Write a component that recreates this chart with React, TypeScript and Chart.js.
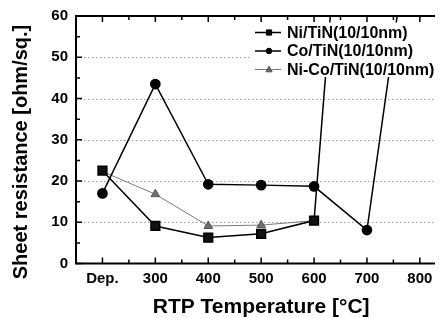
import React, { useEffect, useRef } from "react";
import { Chart, registerables } from "chart.js";

Chart.register(...registerables);

// ---- data ----
const tempPositions = [200, 300, 400, 500, 600, 700, 800];
const tempLabels = ["Dep.", "300", "400", "500", "600", "700", "800"];
const xMinorTicks = [250, 350, 450, 550, 650, 750];
const yTicks = [0, 10, 20, 30, 40, 50, 60];
const yMinorTicks = [5, 15, 25, 35, 45, 55];
const yGridValues = [10, 20, 30, 40, 50];

const niTiN: (number | null)[] = [22.5, 9.1, 6.3, 7.2, 10.4, 172, null];
const coTiN: (number | null)[] = [17.0, 43.5, 19.2, 19.0, 18.7, 8.1, 99];
const niCoTiN: (number | null)[] = [22.3, 16.8, 9.1, 9.3, 10.4, null, null];

const seriesNames = ["Ni/TiN(10/10nm)", "Co/TiN(10/10nm)", "Ni-Co/TiN(10/10nm)"];

const FONT = "'Liberation Sans', Arial, Helvetica, sans-serif";

function toPoints(arr: (number | null)[]) {
  const out: { x: number; y: number }[] = [];
  arr.forEach((v, i) => {
    if (v !== null) out.push({ x: tempPositions[i], y: v });
  });
  return out;
}

function drawMarker(ctx: CanvasRenderingContext2D, style: string, x: number, y: number, r: number, fill: string, stroke: string) {
  ctx.save();
  ctx.fillStyle = fill;
  ctx.strokeStyle = stroke;
  ctx.lineWidth = 1;
  ctx.beginPath();
  if (style === "rect") {
    ctx.rect(x - r, y - r, 2 * r, 2 * r);
  } else if (style === "circle") {
    ctx.arc(x, y, r, 0, Math.PI * 2);
  } else {
    ctx.moveTo(x, y - r);
    ctx.lineTo(x + r * 0.95, y + r * 0.7);
    ctx.lineTo(x - r * 0.95, y + r * 0.7);
    ctx.closePath();
  }
  ctx.fill();
  ctx.stroke();
  ctx.restore();
}

const framePlugin = {
  id: "framePlugin",
  beforeDatasetsDraw(chart: any) {
    const { ctx, chartArea } = chart;
    const y = chart.scales.y;
    ctx.save();
    ctx.strokeStyle = "#9a9a9a";
    ctx.lineWidth = 1;
    ctx.setLineDash([1.5, 2.5]);
    yGridValues.forEach((v) => {
      const py = Math.round(y.getPixelForValue(v)) + 0.5;
      ctx.beginPath();
      ctx.moveTo(chartArea.left, py);
      ctx.lineTo(chartArea.right, py);
      ctx.stroke();
    });
    ctx.restore();
  },
  afterDatasetsDraw(chart: any) {
    const { ctx, chartArea } = chart;
    const { left, right, top, bottom } = chartArea;
    const xs = chart.scales.x;
    const ys = chart.scales.y;
    ctx.save();
    // ticks
    ctx.strokeStyle = "#000";
    ctx.lineWidth = 1.5;
    const major = 6;
    const minor = 4;
    const vt = (v: number, len: number) => {
      const px = xs.getPixelForValue(v);
      ctx.beginPath();
      ctx.moveTo(px, bottom);
      ctx.lineTo(px, bottom - len);
      ctx.moveTo(px, top);
      ctx.lineTo(px, top + len);
      ctx.stroke();
    };
    tempPositions.forEach((v) => vt(v, major));
    xMinorTicks.forEach((v) => vt(v, minor));
    const ht = (v: number, len: number, rlen: number) => {
      const py = ys.getPixelForValue(v);
      ctx.beginPath();
      ctx.moveTo(left, py);
      ctx.lineTo(left + len, py);
      ctx.moveTo(right, py);
      ctx.lineTo(right - rlen, py);
      ctx.stroke();
    };
    yTicks.forEach((v) => ht(v, major, 8));
    yMinorTicks.forEach((v) => ht(v, minor, 4));

    // legend box
    ctx.fillStyle = "#fff";
    ctx.fillRect(242, 14.5, 187, 54.5);
    const rows = [24.5, 43, 61.5];
    const ds = chart.data.datasets;
    rows.forEach((ry, i) => {
      const d = ds[i];
      ctx.strokeStyle = d.borderColor;
      ctx.lineWidth = i === 2 ? 1 : 1.5;
      ctx.beginPath();
      ctx.moveTo(247, ry);
      ctx.lineTo(273, ry);
      ctx.stroke();
      const style = i === 0 ? "rect" : i === 1 ? "circle" : "triangle";
      const r = i === 0 ? 2.6 : i === 1 ? 2.8 : 3.3;
      drawMarker(ctx, style, 261, ry, r, d.backgroundColor, d.pointBorderColor || d.borderColor);
      ctx.fillStyle = "#000";
      ctx.font = `bold 16px ${FONT}`;
      ctx.textAlign = "left";
      ctx.textBaseline = "middle";
      ctx.fillText(seriesNames[i], 279, ry + 1);
    });

    // frame
    ctx.strokeStyle = "#000";
    ctx.lineWidth = 2;
    ctx.beginPath();
    ctx.moveTo(left, top);
    ctx.lineTo(left, bottom);
    ctx.moveTo(left - 1, bottom);
    ctx.lineTo(right + 1, bottom);
    ctx.moveTo(left - 1, top);
    ctx.lineTo(right + 1, top);
    ctx.moveTo(right, top);
    ctx.lineTo(right, bottom);
    ctx.stroke();

    // axis titles
    ctx.fillStyle = "#000";
    ctx.font = `bold 21px ${FONT}`;
    ctx.textAlign = "center";
    ctx.textBaseline = "alphabetic";
    ctx.fillText("RTP Temperature [\u00B0C]", (left + right) / 2, 305);
    ctx.save();
    ctx.translate(19, 144);
    ctx.rotate(-Math.PI / 2);
    ctx.font = `bold 20px ${FONT}`;
    ctx.fillText("Sheet resistance [ohm/sq.]", 0, 0);
    ctx.restore();
    ctx.restore();
  },
};

export default function App() {
  const canvasRef = useRef<HTMLCanvasElement | null>(null);
  useEffect(() => {
    if (!canvasRef.current) return;
    const chart = new Chart(canvasRef.current, {
      type: "line",
      data: {
        datasets: [
          {
            label: seriesNames[0],
            data: toPoints(niTiN),
            borderColor: "#000",
            backgroundColor: "#000",
            borderWidth: 1.5,
            pointStyle: "rect",
            pointRadius: 6.2,
            pointBorderColor: "#000",
            pointBackgroundColor: "#111",
            tension: 0,
          },
          {
            label: seriesNames[1],
            data: toPoints(coTiN),
            borderColor: "#000",
            backgroundColor: "#000",
            borderWidth: 1.5,
            pointStyle: "circle",
            pointRadius: 4.6,
            pointBorderColor: "#000",
            pointBackgroundColor: "#000",
            tension: 0,
          },
          {
            label: seriesNames[2],
            data: toPoints(niCoTiN),
            borderColor: "#7a7a7a",
            backgroundColor: "#6a6a6a",
            borderWidth: 1,
            pointStyle: "triangle",
            pointRadius: 5,
            pointBorderColor: "#555",
            pointBackgroundColor: "#6e6e6e",
            tension: 0,
          },
        ],
      },
      options: {
        responsive: false,
        animation: false,
        devicePixelRatio: 1,
        layout: { padding: { left: 0, top: 8, right: 1, bottom: 0 } },
        plugins: { legend: { display: false }, tooltip: { enabled: false } },
        scales: {
          x: {
            type: "linear",
            min: 150,
            max: 850,
            afterBuildTicks: (scale: any) => {
              scale.ticks = tempPositions.map((v) => ({ value: v }));
            },
            afterFit: (scale: any) => {
              scale.height = 54.5;
              scale.paddingLeft = 0;
              scale.paddingRight = 0;
            },
            ticks: {
              autoSkip: false,
              maxRotation: 0,
              padding: 6,
              color: "#000",
              font: { family: FONT, size: 15, weight: "bold" },
              callback: (v: any) => {
                const i = tempPositions.indexOf(Number(v));
                return i >= 0 ? tempLabels[i] : "";
              },
            },
            grid: { display: false, drawTicks: false },
            border: { display: false },
          },
          y: {
            type: "linear",
            min: 0,
            max: 60,
            afterBuildTicks: (scale: any) => {
              scale.ticks = yTicks.map((v) => ({ value: v }));
            },
            afterFit: (scale: any) => {
              scale.width = 68;
              scale.paddingTop = 0;
              scale.paddingBottom = 0;
            },
            ticks: {
              padding: 8,
              color: "#000",
              font: { family: FONT, size: 15, weight: "bold" },
            },
            grid: { display: false, drawTicks: false },
            border: { display: false },
          },
        },
      },
      plugins: [framePlugin],
    } as any);
    return () => chart.destroy();
  }, []);
  return (
    <div style={{ width: 435, height: 310, overflow: "hidden", position: "relative" }}>
      <canvas ref={canvasRef} width={446} height={310} style={{ display: "block" }} />
    </div>
  );
}
